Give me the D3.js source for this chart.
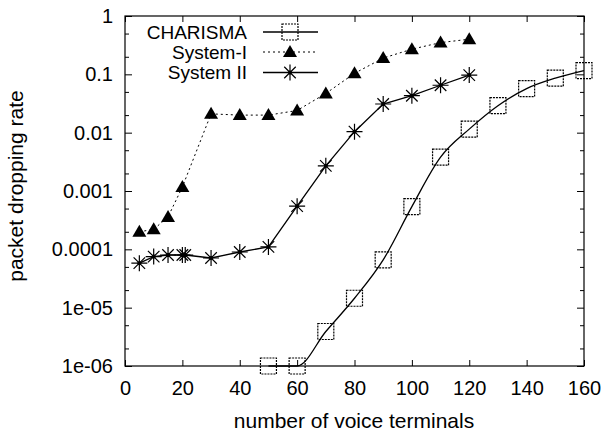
<!DOCTYPE html>
<html>
<head>
<meta charset="utf-8">
<script src="https://cdn.jsdelivr.net/npm/d3@7"></script>
<style>
  body { margin: 0; background: #fff; }
  svg text { font-family: "Liberation Sans", Arial, Helvetica, sans-serif; fill: #000; }
  .axis path { display: none; }
  .axis line { stroke: #000; stroke-width: 1; }
</style>
</head>
<body>
<div id="chart"></div>
<script>
// data
let charismaX = [50, 60, 70, 80, 90, 100, 110, 120, 130, 140, 150, 160];
let charismaY = [1e-6, 1e-6, 3.9e-6, 1.45e-5, 6.6e-5, 5.4e-4, 3.8e-3, 0.0115, 0.029, 0.057, 0.086, 0.116];

let sys1X = [5, 10, 15, 20, 30, 40, 50, 60, 70, 80, 90, 100, 110, 120];
let sys1Y = [2e-4, 2.2e-4, 3.6e-4, 1.17e-3, 0.021, 0.02, 0.02, 0.024, 0.047, 0.104, 0.19, 0.27, 0.35, 0.40];

let sys2X = [5, 10, 15, 20, 21, 30, 40, 50, 60, 70, 80, 90, 100, 110, 120];
let sys2Y = [5.8e-5, 7.5e-5, 8e-5, 8e-5, 8e-5, 7.1e-5, 9e-5, 1.1e-4, 5.5e-4, 2.7e-3, 0.0104, 0.031, 0.043, 0.065, 0.097];

let xTicks = [0, 20, 40, 60, 80, 100, 120, 140, 160];
let yTicks = [1e-6, 1e-5, 1e-4, 1e-3, 1e-2, 0.1, 1];
let yTickLabels = ["1e-06", "1e-05", "0.0001", "0.001", "0.01", "0.1", "1"];
let yMinorTicks = [];
yTicks.slice(0, -1).forEach(d => { yMinorTicks.push(d * 2, d * 5); });

let seriesNames = ["CHARISMA", "System-I", "System II"];

const W = 603, H = 434;
const m = {left: 125, right: 584, top: 16, bottom: 366};

let svg = d3.select("#chart").append("svg")
    .attr("width", W)
    .attr("height", H);

let x = d3.scaleLinear().domain([0, 160]).range([m.left, m.right]);
let y = d3.scaleLog().domain([1e-6, 1]).range([m.bottom, m.top]);

// axes, ticks pointing inward on all four sides
svg.append("g").attr("class", "axis")
    .attr("transform", "translate(" + m.left + ",0)")
    .style("font-size", "20px")
    .call(d3.axisLeft(y).tickValues(yTicks).tickSizeInner(-7).tickSizeOuter(0).tickPadding(12)
        .tickFormat((d, i) => yTickLabels[i]));
svg.append("g").attr("class", "axis")
    .attr("transform", "translate(" + m.left + ",0)")
    .call(d3.axisLeft(y).tickValues(yMinorTicks).tickSizeInner(-4).tickSizeOuter(0).tickFormat(""));
svg.append("g").attr("class", "axis")
    .attr("transform", "translate(" + m.right + ",0)")
    .call(d3.axisRight(y).tickValues(yTicks).tickSizeInner(-7).tickSizeOuter(0).tickFormat(""));
svg.append("g").attr("class", "axis")
    .attr("transform", "translate(" + m.right + ",0)")
    .call(d3.axisRight(y).tickValues(yMinorTicks).tickSizeInner(-4).tickSizeOuter(0).tickFormat(""));

svg.append("g").attr("class", "axis")
    .attr("transform", "translate(0," + m.bottom + ")")
    .style("font-size", "20px")
    .call(d3.axisBottom(x).tickValues(xTicks).tickSizeInner(-6).tickSizeOuter(0).tickPadding(15));
svg.append("g").attr("class", "axis")
    .attr("transform", "translate(0," + m.top + ")")
    .call(d3.axisTop(x).tickValues(xTicks).tickSizeInner(-6).tickSizeOuter(0).tickFormat(""));

svg.selectAll(".axis text").attr("fill", "#000");

// frame
svg.append("rect")
    .attr("x", m.left).attr("y", m.top)
    .attr("width", m.right - m.left).attr("height", m.bottom - m.top)
    .attr("fill", "none").attr("stroke", "#000").attr("stroke-width", 1.2);

// axis titles
svg.append("text")
    .attr("x", 354)
    .attr("y", 428)
    .attr("text-anchor", "middle")
    .style("font-size", "21px")
    .text("number of voice terminals");

svg.append("text")
    .attr("transform", "translate(23,186) rotate(-90)")
    .attr("text-anchor", "middle")
    .style("font-size", "21px")
    .text("packet dropping rate");

// markers
function square(g, cx, cy) {
    g.append("rect")
        .attr("x", cx - 8).attr("y", cy - 8)
        .attr("width", 16).attr("height", 16)
        .attr("fill", "none").attr("stroke", "#000").attr("stroke-width", 1.2)
        .attr("stroke-dasharray", "2,1");
}
function triangle(g, cx, cy) {
    g.append("path")
        .attr("d", "M" + cx + "," + (cy - 7) + "L" + (cx + 7) + "," + (cy + 5) + "L" + (cx - 7) + "," + (cy + 5) + "Z")
        .attr("fill", "#000");
}
function star(g, cx, cy) {
    let r = 8, d = r * 0.72;
    g.append("path")
        .attr("d", "M" + (cx - r) + "," + cy + "L" + (cx + r) + "," + cy +
            "M" + cx + "," + (cy - r) + "L" + cx + "," + (cy + r) +
            "M" + (cx - d) + "," + (cy - d) + "L" + (cx + d) + "," + (cy + d) +
            "M" + (cx - d) + "," + (cy + d) + "L" + (cx + d) + "," + (cy - d))
        .attr("stroke", "#000").attr("stroke-width", 1.2).attr("fill", "none");
    g.append("circle").attr("cx", cx).attr("cy", cy).attr("r", 2).attr("fill", "#000");
}

let plot = svg.append("g");

// CHARISMA (smooth curve)
let charismaData = charismaX.map((d, i) => [d, charismaY[i]]);
plot.append("path")
    .datum(charismaData)
    .attr("fill", "none").attr("stroke", "#000").attr("stroke-width", 1.3)
    .attr("d", d3.line().x(d => x(d[0])).y(d => y(d[1])).curve(d3.curveMonotoneX));
charismaData.forEach(d => square(plot, x(d[0]), y(d[1])));

// System-I (dotted)
let sys1Data = sys1X.map((d, i) => [d, sys1Y[i]]);
plot.append("path")
    .datum(sys1Data)
    .attr("fill", "none").attr("stroke", "#000").attr("stroke-width", 1)
    .attr("stroke-dasharray", "2,3")
    .attr("d", d3.line().x(d => x(d[0])).y(d => y(d[1])));
sys1Data.forEach(d => triangle(plot, x(d[0]), y(d[1])));

// System II (solid)
let sys2Data = sys2X.map((d, i) => [d, sys2Y[i]]);
plot.append("path")
    .datum(sys2Data)
    .attr("fill", "none").attr("stroke", "#000").attr("stroke-width", 1.3)
    .attr("d", d3.line().x(d => x(d[0])).y(d => y(d[1])));
sys2Data.forEach(d => star(plot, x(d[0]), y(d[1])));

// legend
let legY = [32, 52, 72.5];
let legend = svg.append("g");
seriesNames.forEach((name, i) => {
    legend.append("text")
        .attr("x", 247).attr("y", legY[i])
        .attr("dy", "0.35em")
        .attr("text-anchor", "end")
        .style("font-size", "19px")
        .text(name);
    legend.append("line")
        .attr("x1", 263).attr("x2", 318)
        .attr("y1", legY[i]).attr("y2", legY[i])
        .attr("stroke", "#000")
        .attr("stroke-width", i == 1 ? 1 : 1.3)
        .attr("stroke-dasharray", i == 1 ? "2,3" : null);
});
square(legend, 290, legY[0]);
triangle(legend, 290, legY[1]);
star(legend, 290, legY[2]);
</script>
</body>
</html>
